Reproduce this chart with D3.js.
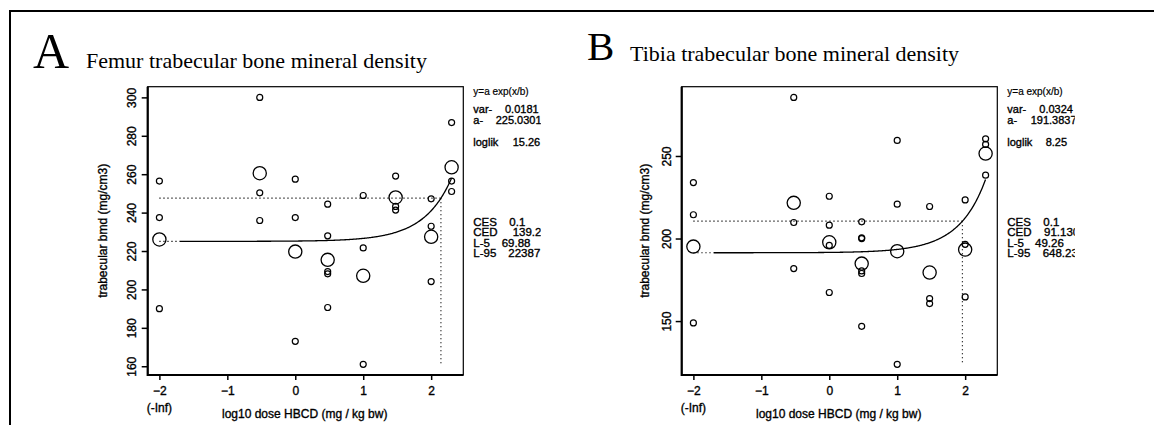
<!DOCTYPE html>
<html>
<head>
<meta charset="utf-8">
<script src="https://cdn.jsdelivr.net/npm/d3@7"></script>
<style>
  body { margin: 0; background: #fff; }
  text { fill: #000; }
  .heavy text, text.heavy { stroke: #000; stroke-width: 0.35px; }
</style>
</head>
<body>
<script>
// dose levels on the log10 axis (-2 stands for the control group, -Inf)
var doseLevels = [-2, -0.523, 0, 0.477, 1, 1.477, 2, 2.301];
var doseTicks = [-2, -1, 0, 1, 2];

// femur: individual animals per dose level and group means
var femurBmd = [
  [256.4, 237.4, 190.0],
  [300.0, 250.3, 235.9],
  [257.4, 237.4, 173.0],
  [244.4, 227.9, 209.3, 208.1, 190.6],
  [248.9, 221.6, 161.0],
  [259.0, 243.2, 241.3],
  [247.2, 232.9, 204.1],
  [286.9, 256.4, 251.0]
];
var femurMeans = [226.0, 260.5, 219.7, 215.4, 207.1, 247.9, 227.4, 263.6];
var femurTicks = [160, 180, 200, 220, 240, 260, 280, 300];
var femurFit = { a: 225.0301, ces: 0.1, ced: 139.25 };
var femurLabels = [["var-", "0.0181"], ["a-", "225.0301"], ["loglik", "15.26"]];
var femurCed = [["CES", "0.1"], ["CED", "139.25"], ["L-5", "69.88"], ["L-95", "22387"]];

// tibia
var tibiaBmd = [
  [233.9, 214.4, 148.9],
  [285.5, 209.7, 181.8],
  [225.6, 208.1, 195.8, 167.3],
  [210.1, 200.4, 200.0, 180.4, 178.8, 146.8],
  [259.4, 220.8, 123.8],
  [219.4, 163.6, 160.6],
  [223.4, 196.5, 164.6],
  [260.4, 257.0, 238.4]
];
var tibiaMeans = [195.1, 221.6, 197.7, 184.8, 192.3, 179.4, 193.3, 251.5];
var tibiaTicks = [150, 200, 250];
var tibiaFit = { a: 191.3837, ces: 0.1, ced: 91.13 };
var tibiaLabels = [["var-", "0.0324"], ["a-", "191.3837"], ["loglik", "8.25"]];
var tibiaCed = [["CES", "0.1"], ["CED", "91.130"], ["L-5", "49.26"], ["L-95", "648.23"]];

var W = 1154, H = 425;
var svg = d3.select("body").append("svg")
    .attr("width", W)
    .attr("height", H);

// outer frame
svg.append("path")
    .attr("d", "M10," + H + "V11H" + W)
    .attr("fill", "none")
    .attr("stroke", "#000")
    .attr("stroke-width", 2);

var sans = "'Liberation Sans', Arial, sans-serif";
var serif = "'Liberation Serif', 'Times New Roman', serif";

function drawPanel(opt) {
    var left = opt.left, top = 86.7, w = 315.6, h = 288.3;
    var g = svg.append("g").attr("transform", "translate(" + left + "," + top + ")");

    // R style 4% axis expansion
    var xr = d3.extent(doseLevels), xp = (xr[1] - xr[0]) * 0.04;
    var all = d3.merge(opt.bmd);
    var yr = d3.extent(all), yp = (yr[1] - yr[0]) * 0.04;

    var x = d3.scaleLinear().domain([xr[0] - xp, xr[1] + xp]).range([0, w]);
    var y = d3.scaleLinear().domain([yr[0] - yp, yr[1] + yp]).range([h, 0]);

    // title
    svg.append("text")
        .attr("x", opt.letterX).attr("y", opt.letterY)
        .style("font-family", serif).style("font-size", opt.letterSize + "px")
        .text(opt.letter);
    svg.append("text")
        .attr("x", opt.titleX).attr("y", opt.titleY)
        .style("font-family", serif).style("font-size", "22px")
        .text(opt.title);

    // box: thin top/right, heavier axes
    g.append("rect")
        .attr("width", w).attr("height", h)
        .attr("fill", "none").attr("stroke", "#000").attr("stroke-width", 1.2);
    g.append("path")
        .attr("d", "M0,0V" + h + "H" + w)
        .attr("fill", "none").attr("stroke", "#000").attr("stroke-width", 2.2);

    var yAxis = d3.axisLeft(y).tickValues(opt.ticks).tickSize(6).tickSizeOuter(0);
    var ya = g.append("g").attr("class", "heavy").call(yAxis);
    ya.select(".domain").remove();
    ya.selectAll("line").attr("stroke-width", 1.5);
    ya.selectAll("text")
        .attr("x", null).attr("dy", null)
        .attr("text-anchor", "middle")
        .attr("transform", "translate(" + (-opt.tickLabelOff) + ",0) rotate(-90)")
        .attr("y", 0).attr("dy", "0")
        .style("font-family", sans).style("font-size", "12px");

    var xAxis = d3.axisBottom(x).tickValues(doseTicks).tickFormat(d3.format("d"))
        .tickSize(5).tickSizeOuter(0).tickPadding(6);
    var xa = g.append("g").attr("class", "heavy").attr("transform", "translate(0," + h + ")").call(xAxis);
    xa.select(".domain").remove();
    xa.selectAll("line").attr("stroke-width", 1.5);
    xa.selectAll("text").style("font-family", sans).style("font-size", "12px");
    g.append("text").attr("class", "heavy")
        .attr("x", x(-2)).attr("y", h + 37)
        .attr("text-anchor", "middle")
        .style("font-family", sans).style("font-size", "12px")
        .text("(-Inf)");
    g.append("text").attr("class", "heavy")
        .attr("x", opt.xLabelX).attr("y", h + 43)
        .attr("text-anchor", "middle")
        .style("font-family", sans).style("font-size", "12px")
        .text("log10 dose HBCD (mg / kg bw)");
    g.append("text").attr("class", "heavy")
        .attr("transform", "translate(" + (-opt.yLabelOff) + "," + (h / 2) + ") rotate(-90)")
        .attr("text-anchor", "middle")
        .style("font-family", sans).style("font-size", "12px")
        .text("trabecular bmd (mg/cm3)");

    // fitted model y = a exp(x/b)
    var fit = opt.fit;
    var b = fit.ced / Math.log(1 + fit.ces);
    var ces = fit.a * (1 + fit.ces);
    var lced = Math.log10(fit.ced);
    var curve = d3.range(-1.7, xr[1] + 0.0001, 0.01).map(function (d) {
        return [d, fit.a * Math.exp(Math.pow(10, d) / b)];
    });
    var line = d3.line()
        .x(function (d) { return x(d[0]); })
        .y(function (d) { return y(d[1]); });

    var dots = "1.2,2.8";
    g.append("path").attr("d", line([[xr[0], fit.a], [-1.7, fit.a]]))
        .attr("fill", "none").attr("stroke", "#000").attr("stroke-width", 1.2)
        .attr("stroke-dasharray", dots);
    g.append("path").attr("d", line([[xr[0], ces], [lced, ces]]))
        .attr("fill", "none").attr("stroke", "#000").attr("stroke-width", 1.2)
        .attr("stroke-dasharray", dots);
    g.append("path").attr("d", line([[lced, ces], [lced, yr[0]]]))
        .attr("fill", "none").attr("stroke", "#000").attr("stroke-width", 1.2)
        .attr("stroke-dasharray", dots);
    g.append("path").attr("d", line(curve))
        .attr("fill", "none").attr("stroke", "#000").attr("stroke-width", 1.3);

    // individual animals
    var pts = [];
    opt.bmd.forEach(function (vals, i) {
        vals.forEach(function (v) { pts.push([doseLevels[i], v]); });
    });
    g.append("g").selectAll("circle")
        .data(pts)
        .enter().append("circle")
        .attr("cx", function (d) { return x(d[0]); })
        .attr("cy", function (d) { return y(d[1]); })
        .attr("r", 3)
        .attr("fill", "none").attr("stroke", "#000").attr("stroke-width", 1.2);

    // group means
    g.append("g").selectAll("circle")
        .data(opt.means)
        .enter().append("circle")
        .attr("cx", function (d, i) { return x(doseLevels[i]); })
        .attr("cy", function (d) { return y(d); })
        .attr("r", 6.6)
        .attr("fill", "none").attr("stroke", "#000").attr("stroke-width", 1.3);

    // model text, clipped on the right like the original
    var clipId = "clip" + opt.letter;
    svg.append("clipPath").attr("id", clipId)
        .append("rect").attr("x", left + w).attr("y", 0).attr("width", 77.5).attr("height", H);
    var t = svg.append("g").attr("class", "heavy").attr("clip-path", "url(#" + clipId + ")")
        .style("font-family", sans);
    var tx = left + w + 10;
    t.append("text").attr("x", tx).attr("y", 94.5)
        .style("font-size", "10px").style("stroke-width", "0.2px").text("y=a exp(x/b)");
    var ly = [113, 124, 145.5];
    opt.labels.forEach(function (d, i) {
        t.append("text").attr("x", tx).attr("y", ly[i]).style("font-size", "11px").text(d[0]);
        t.append("text").attr("x", opt.valX[i]).attr("y", ly[i]).style("font-size", "11px").text(d[1]);
    });
    opt.cedText.forEach(function (d, i) {
        var yy = 225.5 + i * 10.5;
        t.append("text").attr("x", tx).attr("y", yy).style("font-size", "11.5px").text(d[0]);
        t.append("text").attr("x", opt.cedX[i]).attr("y", yy).style("font-size", "11.5px").text(d[1]);
    });
}

drawPanel({
    left: 147.7, letter: "A", letterX: 33, letterY: 68, letterSize: 50,
    title: "Femur trabecular bone mineral density", titleX: 86, titleY: 68,
    bmd: femurBmd, means: femurMeans, ticks: femurTicks, fit: femurFit,
    labels: femurLabels, cedText: femurCed,
    valX: [505, 495.7, 512.7], cedX: [509.3, 512.7, 501.7, 508.3],
    tickLabelOff: 12, yLabelOff: 41, xLabelX: 157
});

drawPanel({
    left: 681.7, letter: "B", letterX: 587, letterY: 60, letterSize: 41,
    title: "Tibia trabecular bone mineral density", titleX: 630, titleY: 61,
    bmd: tibiaBmd, means: tibiaMeans, ticks: tibiaTicks, fit: tibiaFit,
    labels: tibiaLabels, cedText: tibiaCed,
    valX: [1039.3, 1030.7, 1045.7], cedX: [1043.3, 1044, 1035, 1042.7],
    tickLabelOff: 11, yLabelOff: 33, xLabelX: 157
});
</script>
</body>
</html>
